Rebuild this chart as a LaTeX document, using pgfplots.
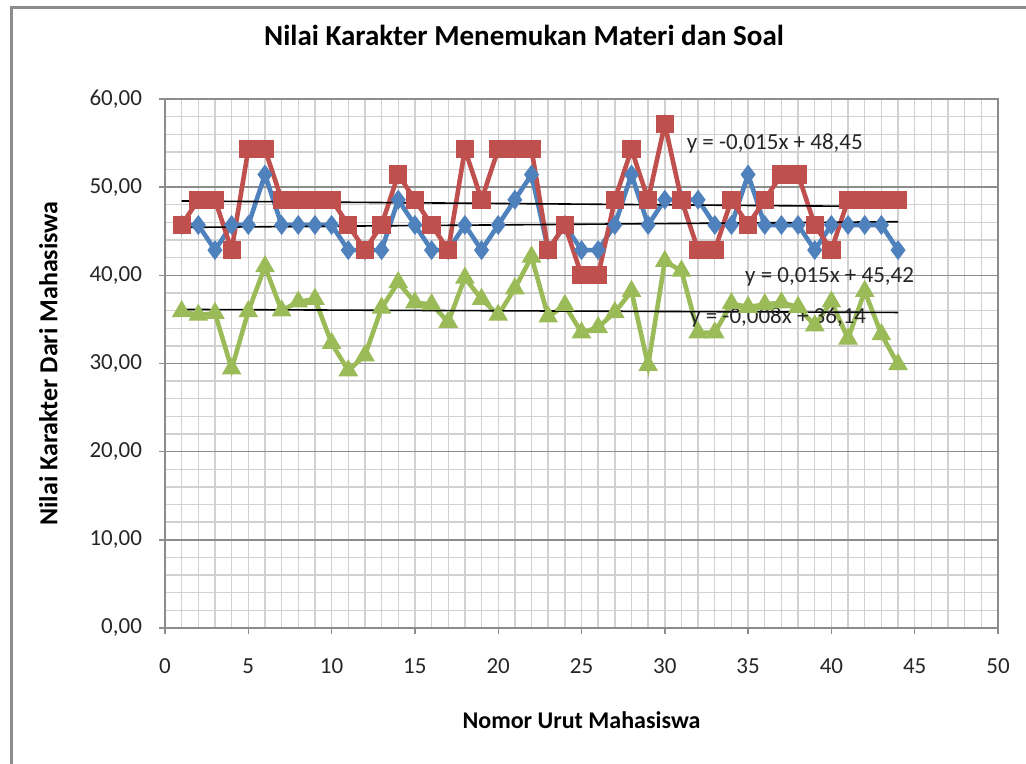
\documentclass[border=0pt]{standalone}
\usepackage{pgfplots}
\pgfplotsset{compat=1.18}
\usepackage{fontspec}
\setmainfont{Carlito}
\definecolor{xblue}{HTML}{4F81BD}
\definecolor{xred}{HTML}{C0504D}
\definecolor{xgreen}{HTML}{9BBB59}
\begin{document}
\begin{tikzpicture}
\path[use as bounding box] (0,0) rectangle (513pt,382pt);
\draw[black!45, line width=1.5pt] (5.5pt,0) -- (5.5pt,378pt) -- (513pt,378pt);
\begin{axis}[
  at={(82.5pt,68pt)}, anchor=south west, scale only axis,
  width=416.5pt, height=264.5pt,
  xmin=0, xmax=50, ymin=0, ymax=60,
  xtick={0,5,...,50}, ytick={0,10,...,60},
  minor xtick={0,1,...,50}, minor y tick num=4,
  xminorgrids, ymajorgrids, yminorgrids,
  major grid style={color=black!45, line width=0.7pt},
  minor grid style={color=black!18, line width=0.7pt},
  minor tick length=0pt, major tick length=3pt, tick align=outside,
  xtick pos=left, ytick pos=left,
  axis line style={black!45, line width=0.7pt},
  tick style={black!45, line width=0.7pt},
  /pgf/number format/assume math mode=true,
  tick label style={font=\fontsize{11.5}{13}\selectfont, text=black!85},
  xticklabel style={yshift=-9pt},
  yticklabel style={xshift=-5pt, /pgf/number format/.cd, fixed, fixed zerofill, precision=2, use comma},
  xticklabel style={/pgf/number format/.cd, fixed, precision=0},
  title={Nilai Karakter Menemukan Materi dan Soal},
  title style={at={(axis description cs:0.431,1.098)}, anchor=center, font=\fontsize{14.5}{17}\selectfont\bfseries},
  xlabel={Nomor Urut Mahasiswa},
  xlabel style={at={(axis description cs:0.5,-0.174)}, anchor=center, font=\fontsize{12}{14}\selectfont\bfseries},
  ylabel={Nilai Karakter Dari Mahasiswa},
  ylabel style={at={(axis description cs:-0.140,0.5)}, anchor=center, rotate=0, font=\fontsize{13}{15}\selectfont\bfseries},
  clip=false,
]
\addplot[xblue, line width=2.3pt, mark=diamond*, mark size=4.6pt, mark options={line width=0.5pt, solid}] coordinates {
(1,45.71)(2,45.71)(3,42.86)(4,45.71)(5,45.71)(6,51.43)(7,45.71)(8,45.71)(9,45.71)(10,45.71)
(11,42.86)(12,42.86)(13,42.86)(14,48.57)(15,45.71)(16,42.86)(17,42.86)(18,45.71)(19,42.86)(20,45.71)
(21,48.57)(22,51.43)(23,42.86)(24,45.71)(25,42.86)(26,42.86)(27,45.71)(28,51.43)(29,45.71)(30,48.57)
(31,48.57)(32,48.57)(33,45.71)(34,45.71)(35,51.43)(36,45.71)(37,45.71)(38,45.71)(39,42.86)(40,45.71)
(41,45.71)(42,45.71)(43,45.71)(44,42.86)};
\addplot[xred, line width=2.3pt, mark=square*, mark size=4.3pt, mark options={line width=0.5pt, solid}] coordinates {
(1,45.71)(2,48.57)(3,48.57)(4,42.86)(5,54.29)(6,54.29)(7,48.57)(8,48.57)(9,48.57)(10,48.57)
(11,45.71)(12,42.86)(13,45.71)(14,51.43)(15,48.57)(16,45.71)(17,42.86)(18,54.29)(19,48.57)(20,54.29)
(21,54.29)(22,54.29)(23,42.86)(24,45.71)(25,40.00)(26,40.00)(27,48.57)(28,54.29)(29,48.57)(30,57.14)
(31,48.57)(32,42.86)(33,42.86)(34,48.57)(35,45.71)(36,48.57)(37,51.43)(38,51.43)(39,45.71)(40,42.86)
(41,48.57)(42,48.57)(43,48.57)(44,48.57)};
\addplot[xgreen, line width=2.3pt, mark=triangle*, mark size=5.2pt, mark options={line width=0.5pt, solid}] coordinates {
(1,35.9)(2,35.5)(3,35.7)(4,29.4)(5,35.9)(6,41.0)(7,36.0)(8,37.0)(9,37.3)(10,32.3)
(11,29.2)(12,30.9)(13,36.3)(14,39.2)(15,36.9)(16,36.7)(17,34.7)(18,39.7)(19,37.3)(20,35.5)
(21,38.5)(22,42.1)(23,35.3)(24,36.6)(25,33.5)(26,34.1)(27,35.8)(28,38.2)(29,29.8)(30,41.6)
(31,40.5)(32,33.5)(33,33.5)(34,36.8)(35,36.4)(36,36.7)(37,36.9)(38,36.4)(39,34.3)(40,37.0)
(41,32.8)(42,38.2)(43,33.3)(44,29.9)};
\addplot[black, line width=0.8pt] coordinates {(1,48.435)(44,47.79)};
\addplot[black, line width=0.8pt] coordinates {(1,45.435)(44,46.08)};
\addplot[black, line width=0.8pt] coordinates {(1,36.132)(44,35.788)};
\node[anchor=west, font=\fontsize{11.5}{13}\selectfont, text=black!85, inner sep=0pt] at (axis cs:31.3,54.9) {y = -0,015x + 48,45};
\node[anchor=west, font=\fontsize{11.5}{13}\selectfont, text=black!85, inner sep=0pt] at (axis cs:34.8,39.8) {y = 0,015x + 45,42};
\node[anchor=west, font=\fontsize{11.5}{13}\selectfont, text=black!85, inner sep=0pt] at (axis cs:31.5,35.2) {y = -0,008x + 36,14};
\end{axis}
\end{tikzpicture}
\end{document}
